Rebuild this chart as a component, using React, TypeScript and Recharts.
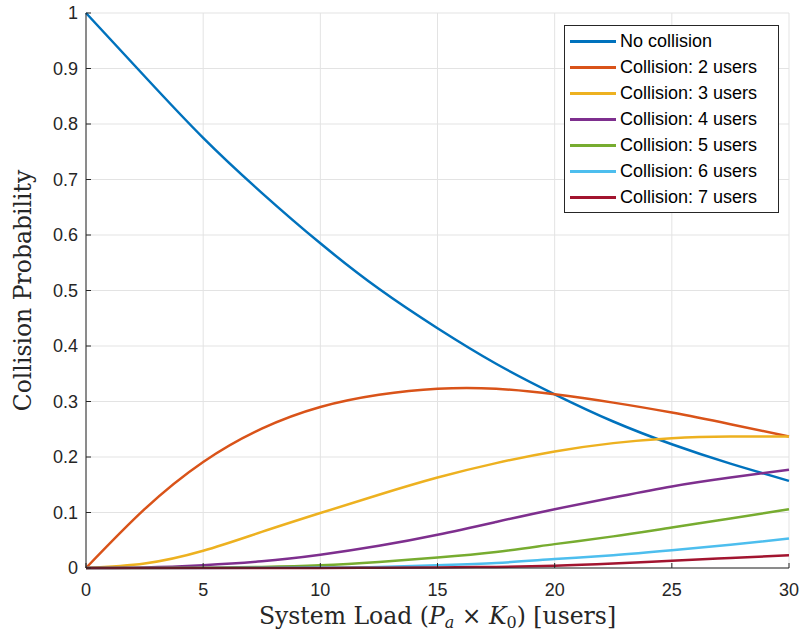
import { CartesianGrid, Line, LineChart, XAxis, YAxis } from "recharts";

const loads = [0, 2.5, 5, 7.5, 10, 12.5, 15, 17.5, 20, 22.5, 25, 27.5, 30];

const noCollision = [1.0, 0.886, 0.775, 0.676, 0.585, 0.503, 0.432, 0.368, 0.313, 0.264, 0.223, 0.188, 0.157];
const twoUsers = [0, 0.106, 0.191, 0.251, 0.29, 0.312, 0.323, 0.323, 0.313, 0.298, 0.28, 0.259, 0.237];
const threeUsers = [0, 0.008, 0.031, 0.065, 0.099, 0.132, 0.163, 0.189, 0.21, 0.225, 0.234, 0.237, 0.237];
const fourUsers = [0, 0.001, 0.005, 0.012, 0.024, 0.04, 0.06, 0.083, 0.106, 0.127, 0.147, 0.163, 0.177];
const fiveUsers = [0, 0, 0.0005, 0.002, 0.005, 0.011, 0.019, 0.029, 0.043, 0.057, 0.073, 0.089, 0.106];
const sixUsers = [0, 0, 0, 0.0003, 0.001, 0.002, 0.005, 0.009, 0.016, 0.023, 0.032, 0.042, 0.053];
const sevenUsers = [0, 0, 0, 0, 0, 0.0005, 0.001, 0.002, 0.004, 0.008, 0.013, 0.018, 0.023];

const seriesNames = [
  "No collision",
  "Collision: 2 users",
  "Collision: 3 users",
  "Collision: 4 users",
  "Collision: 5 users",
  "Collision: 6 users",
  "Collision: 7 users",
];
const seriesColors = ["#0072BD", "#D95319", "#EDB120", "#7E2F8E", "#77AC30", "#4DBEEE", "#A2142F"];
const seriesValues = [noCollision, twoUsers, threeUsers, fourUsers, fiveUsers, sixUsers, sevenUsers];

const xTicks = [0, 5, 10, 15, 20, 25, 30];
const yTicks = [0, 0.1, 0.2, 0.3, 0.4, 0.5, 0.6, 0.7, 0.8, 0.9, 1];

const data = loads.map((load, i) => {
  const row: Record<string, number> = { load };
  seriesValues.forEach((vals, s) => {
    row[`s${s}`] = vals[i];
  });
  return row;
});

const tickFont = { fill: "#262626", fontSize: 18, fontFamily: "'Liberation Sans', Arial, sans-serif" };
const labelFont = "'DejaVu Serif', 'Liberation Serif', serif";
const frame = "#262626";

function LegendBox() {
  return (
    <div
      style={{
        position: "absolute",
        left: 564,
        top: 25,
        width: 215,
        border: "1px solid #262626",
        background: "#fff",
        padding: "2px 4px 2px 5px",
        fontFamily: "'Liberation Sans', Arial, sans-serif",
        fontSize: 18,
        color: "#000",
        boxSizing: "border-box",
      }}
    >
      {seriesNames.map((name, i) => (
        <div key={name} style={{ display: "flex", alignItems: "center", height: 26, whiteSpace: "nowrap" }}>
          <span style={{ display: "inline-block", width: 46, height: 3, background: seriesColors[i], marginRight: 4 }} />
          <span>{name}</span>
        </div>
      ))}
    </div>
  );
}

export default function App() {
  return (
    <div style={{ position: "absolute", left: 0, top: 0, width: 803, height: 637, background: "#fff" }}>
      <LineChart width={803} height={637} data={data} margin={{ top: 13, right: 14, bottom: 0, left: 0 }}>
        <CartesianGrid stroke="#e3e3e3" strokeWidth={1} />
        <XAxis
          dataKey="load"
          type="number"
          domain={[0, 30]}
          ticks={xTicks}
          height={69}
          stroke={frame}
          tick={tickFont}
          tickSize={-5}
          tickMargin={20}
          label={{
            position: "insideBottom",
            content: (props: any) => {
              const vb = props.viewBox || {};
              const cx = (vb.x ?? 86) + (vb.width ?? 703) / 2;
              return (
                <text x={cx} y={624} textAnchor="middle" fontFamily={labelFont} fontSize={23.5} fill="#262626">
                  System Load (<tspan fontStyle="italic">P</tspan>
                  <tspan fontStyle="italic" fontSize={16} dy={4}>a</tspan>
                  <tspan dy={-4}> × </tspan>
                  <tspan fontStyle="italic">K</tspan>
                  <tspan fontSize={16} dy={4}>0</tspan>
                  <tspan dy={-4}>) [users]</tspan>
                </text>
              );
            },
          }}
        />
        <XAxis
          xAxisId="top"
          dataKey="load"
          type="number"
          orientation="top"
          domain={[0, 30]}
          ticks={xTicks}
          height={0}
          stroke={frame}
          tickSize={-5}
          tickFormatter={() => ""}
        />
        <YAxis
          type="number"
          domain={[0, 1]}
          ticks={yTicks}
          width={86}
          stroke={frame}
          tick={tickFont}
          tickSize={-5}
          tickMargin={13}
          label={{
            position: "insideLeft",
            content: () => (
              <text
                x={31}
                y={290.5}
                transform="rotate(-90, 31, 290.5)"
                textAnchor="middle"
                fontFamily={labelFont}
                fontSize={23.5}
                fill="#262626"
              >
                Collision Probability
              </text>
            ),
          }}
        />
        <YAxis
          yAxisId="right"
          type="number"
          orientation="right"
          domain={[0, 1]}
          ticks={yTicks}
          width={0}
          stroke={frame}
          tickSize={-5}
          tickFormatter={() => ""}
        />
        {seriesNames.map((name, s) => (
          <Line
            key={name}
            type="natural"
            dataKey={`s${s}`}
            name={name}
            stroke={seriesColors[s]}
            strokeWidth={2.5}
            dot={false}
            isAnimationActive={false}
          />
        ))}
      </LineChart>
      <LegendBox />
    </div>
  );
}
